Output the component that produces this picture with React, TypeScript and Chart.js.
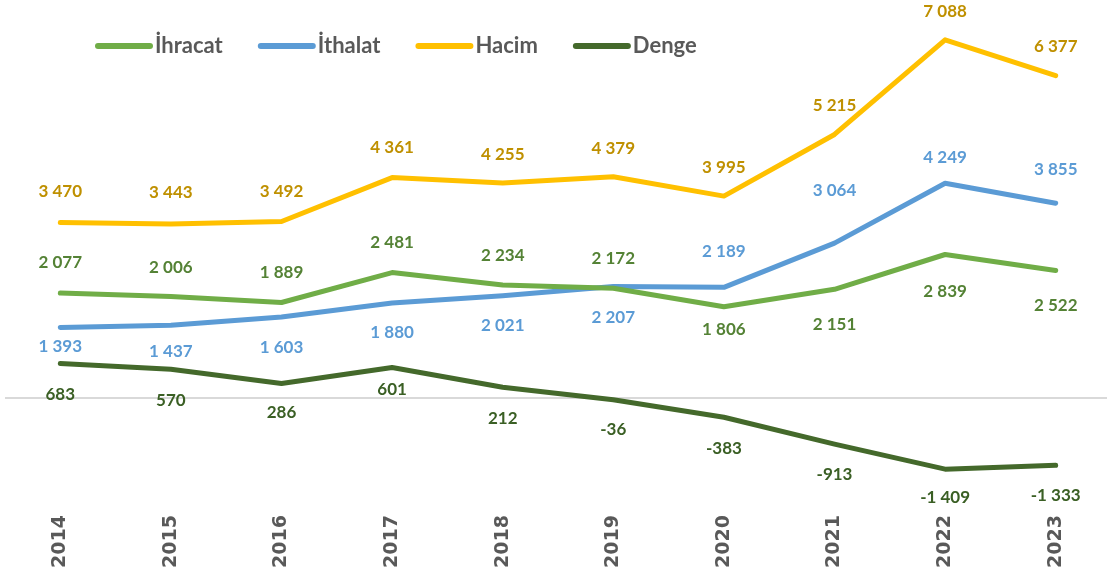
import React, { useEffect, useRef } from "react";
import { Chart, registerables } from "chart.js";

Chart.register(...registerables);

const years = ["2014", "2015", "2016", "2017", "2018", "2019", "2020", "2021", "2022", "2023"];
const ihracat = [2077, 2006, 1889, 2481, 2234, 2172, 1806, 2151, 2839, 2522];
const ithalat = [1393, 1437, 1603, 1880, 2021, 2207, 2189, 3064, 4249, 3855];
const hacim = [3470, 3443, 3492, 4361, 4255, 4379, 3995, 5215, 7088, 6377];
const denge = [683, 570, 286, 601, 212, -36, -383, -913, -1409, -1333];

// label vertical shifts (px, relative to point) — styling only
const ihracatShift = [-30, -29, -30, -30, -30, -30, 23, 35, 37, 35];
const ithalatShift = [19, 26, 31, 30, 30, 31, -36, -53, -26, -34];
const hacimShift = [-31, -31, -30, -30, -28, -28, -29, -29, -28, -29];
const dengeShift = [31, 31, 29, 22, 31, 30, 31, 30, 28, 30];

const LABEL_FONT = "bold 17px Lato";

function fmt(v: number): string {
  const s = Math.abs(v).toString().replace(/\B(?=(\d{3})+(?!\d))/g, " ");
  return (v < 0 ? "-" : "") + s;
}

const dataLabelPlugin = {
  id: "dataLabels",
  afterDatasetsDraw(chart: any) {
    const ctx = chart.ctx;
    ctx.save();
    ctx.font = LABEL_FONT;
    ctx.textAlign = "center";
    ctx.textBaseline = "middle";
    chart.data.datasets.forEach((ds: any, di: number) => {
      const meta = chart.getDatasetMeta(di);
      ctx.fillStyle = ds.labelColor;
      meta.data.forEach((pt: any, i: number) => {
        ctx.fillText(fmt(ds.data[i]), pt.x, pt.y + ds.labelShift[i]);
      });
    });
    ctx.restore();
  },
};

const legendPlugin = {
  id: "customLegend",
  afterDraw(chart: any) {
    const ctx = chart.ctx;
    ctx.save();
    ctx.font = "bold 22px Lato";
    ctx.textBaseline = "middle";
    ctx.textAlign = "left";
    let x = 95;
    const y = 46;
    chart.data.datasets.forEach((ds: any) => {
      ctx.strokeStyle = ds.borderColor;
      ctx.lineWidth = 6;
      ctx.lineCap = "round";
      ctx.beginPath();
      ctx.moveTo(x + 3, y);
      ctx.lineTo(x + 55, y);
      ctx.stroke();
      x += 60;
      ctx.fillStyle = "#595959";
      ctx.fillText(ds.label, x, y);
      x += ctx.measureText(ds.label).width + 35;
    });
    ctx.restore();
  },
};

export default function App() {
  const ref = useRef<HTMLCanvasElement | null>(null);
  useEffect(() => {
    if (!ref.current) return;
    const mk = (label: string, data: number[], color: string, labelColor: string, shift: number[]) => ({
      label,
      data,
      borderColor: color,
      backgroundColor: color,
      borderWidth: 5,
      pointRadius: 0,
      borderCapStyle: "round",
      borderJoinStyle: "round",
      tension: 0,
      clip: false,
      labelColor,
      labelShift: shift,
    });
    const chart = new Chart(ref.current, {
      type: "line",
      data: {
        labels: years,
        datasets: [
          mk("İhracat", ihracat, "#70AD47", "#548235", ihracatShift),
          mk("İthalat", ithalat, "#5B9BD5", "#5B9BD5", ithalatShift),
          mk("Hacim", hacim, "#FFC000", "#BF9000", hacimShift),
          mk("Denge", denge, "#44692B", "#3A5F24", dengeShift),
        ] as any,
      },
      options: {
        animation: false,
        responsive: false,
        devicePixelRatio: 1,
        layout: { padding: { left: 5, top: 19, right: 0, bottom: 0 } },
        plugins: { legend: { display: false }, tooltip: { enabled: false } },
        scales: {
          x: {
            offset: true,
            grid: { display: false, drawTicks: false },
            border: { display: false },
            ticks: {
              maxRotation: 90,
              minRotation: 90,
              padding: 16,
              color: "#595959",
              font: { family: "DejaVu Sans", weight: "bold", size: 19 },
            },
            afterFit: (s: any) => {
              s.height = 77;
            },
          },
          y: {
            min: -2000,
            max: 7500,
            ticks: { display: false, stepSize: 500 },
            border: { display: false },
            grid: {
              drawTicks: false,
              lineWidth: 2,
              color: (c: any) => (c.tick && c.tick.value === 0 ? "#D9D9D9" : "rgba(0,0,0,0)"),
            },
            afterFit: (s: any) => {
              s.width = 0;
            },
          },
        },
      } as any,
      plugins: [dataLabelPlugin, legendPlugin],
    });
    return () => chart.destroy();
  }, []);
  return (
    <div style={{ position: "fixed", left: 0, top: 0, width: 1107, height: 576, overflow: "hidden", background: "#fff" }}>
      <canvas ref={ref} width={1111} height={576} style={{ display: "block" }} />
    </div>
  );
}
